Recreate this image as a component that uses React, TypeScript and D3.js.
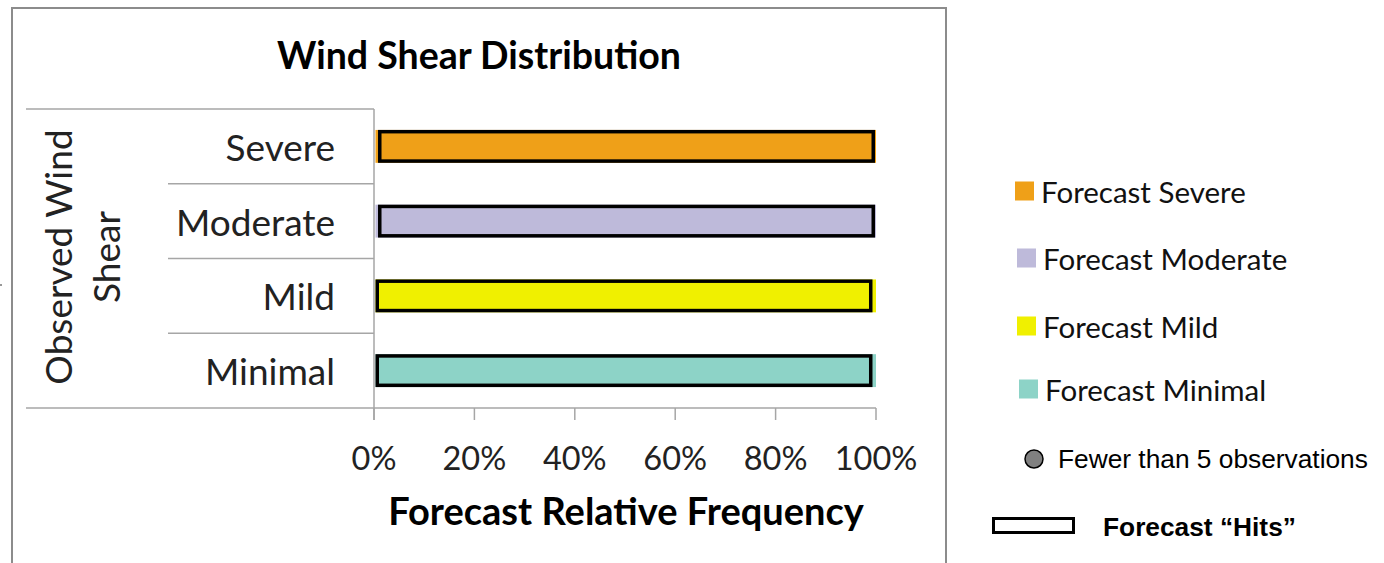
import React from "react";
import * as d3 from "d3";

// Observed categories (rows) and the forecast categories stacked in each row
const observed = ["Severe", "Moderate", "Mild", "Minimal"];
const forecastKeys = ["Forecast Severe", "Forecast Moderate", "Forecast Mild", "Forecast Minimal"];

// Percent of forecasts in each category, per observed row
const forecastSevere = [100, 0, 0, 0];
const forecastModerate = [0, 100, 0, 0];
const forecastMild = [0, 0, 100, 0];
const forecastMinimal = [0, 0, 0, 100];

// Extent of the "hit" portion of each row (percent)
const hitStart = [0.8, 0.8, 0.3, 0.3];
const hitEnd = [99.8, 99.8, 99.3, 99.3];

const tickValues = [0, 20, 40, 60, 80, 100];
const colors = ["#EFA018", "#BEBADA", "#F0F000", "#8DD3C7"];

const W = 1384;
const H = 563;

export default function App() {
  const rows = observed.map((o, i) => ({
    obs: o,
    "Forecast Severe": forecastSevere[i],
    "Forecast Moderate": forecastModerate[i],
    "Forecast Mild": forecastMild[i],
    "Forecast Minimal": forecastMinimal[i],
  }));
  const stacked = d3.stack<any>().keys(forecastKeys)(rows);

  const x = d3.scaleLinear().domain([0, 100]).range([374, 876]);
  const y = d3.scaleBand().domain(observed).range([109, 408]).paddingInner(0.56).paddingOuter(0.28);
  const band = d3.scaleBand().domain(observed).range([109, 408]);

  const calibri = "Lato, 'Open Sans', sans-serif";
  const arial = "'Liberation Sans', Arial, sans-serif";
  const grid = "#a6a6a6";

  return (
    <svg width={W} height={H} style={{ position: "absolute", left: 0, top: 0, background: "#fff" }}>
      {/* chart frame */}
      <rect x={12} y={8} width={934} height={580} fill="#fff" stroke="#8c8c8c" strokeWidth={2} />
      <line x1={0} x2={2} y1={285} y2={285} stroke="#333" strokeWidth={1} />

      <text x={479} y={54} textAnchor="middle" dominantBaseline="central" fontFamily={calibri} fontWeight={700} fontSize={37.5} fill="#000">
        Wind Shear Distribution
      </text>

      {/* category table lines */}
      <line x1={26} x2={374} y1={109} y2={109} stroke={grid} strokeWidth={1.5} />
      {observed.slice(1).map((o) => (
        <line key={o} x1={168} x2={374} y1={band(o)!} y2={band(o)!} stroke={grid} strokeWidth={1.5} />
      ))}
      <line x1={26} x2={374} y1={408} y2={408} stroke={grid} strokeWidth={1.5} />

      {/* x axis */}
      <line x1={374} x2={876} y1={408} y2={408} stroke={grid} strokeWidth={1.5} />
      <line x1={374} x2={374} y1={109} y2={420} stroke={grid} strokeWidth={1.5} />
      {tickValues.map((t) => (
        <g key={t}>
          <line x1={x(t)} x2={x(t)} y1={408} y2={420} stroke={grid} strokeWidth={1.5} />
          <text x={x(t)} y={457} textAnchor="middle" dominantBaseline="central" fontFamily={calibri} fontSize={32.5} fill="#222">
            {t}%
          </text>
        </g>
      ))}
      <text x={626} y={510} textAnchor="middle" dominantBaseline="central" fontFamily={calibri} fontWeight={700} fontSize={38} fill="#000">
        Forecast Relative Frequency
      </text>

      {/* y axis title */}
      <g transform="translate(57,257) rotate(-90)">
        <text x={0} y={0} textAnchor="middle" dominantBaseline="central" fontFamily={calibri} fontSize={37} fill="#222">
          Observed Wind
        </text>
      </g>
      <g transform="translate(105,257) rotate(-90)">
        <text x={0} y={0} textAnchor="middle" dominantBaseline="central" fontFamily={calibri} fontSize={37} fill="#222">
          Shear
        </text>
      </g>

      {/* category labels */}
      {observed.map((o) => (
        <text key={o} x={335} y={band(o)! + band.bandwidth() / 2} textAnchor="end" dominantBaseline="central" fontFamily={calibri} fontSize={37} fill="#222">
          {o}
        </text>
      ))}

      {/* stacked bars */}
      {stacked.map((s, si) => (
        <g key={s.key} fill={colors[si]}>
          {s.map((d, i) =>
            d[1] - d[0] > 0 ? (
              <rect key={i} x={x(d[0]) + 1.5} y={y(observed[i])!} width={x(d[1]) - x(d[0]) - 1.5} height={y.bandwidth()} />
            ) : null
          )}
        </g>
      ))}

      {/* hit outlines */}
      {observed.map((o, i) => (
        <rect
          key={o}
          x={x(hitStart[i]) + 1.75}
          y={y(o)! + 1.75}
          width={x(hitEnd[i]) - x(hitStart[i]) - 3.5}
          height={y.bandwidth() - 3.5}
          fill="none"
          stroke="#000"
          strokeWidth={3.5}
        />
      ))}

      {/* legend */}
      {forecastKeys.map((k, i) => {
        const ly = [191, 258, 326, 389][i];
        const lx = [1015, 1017, 1017, 1019][i];
        return (
          <g key={k}>
            <rect x={lx} y={ly - 9.5} width={19} height={19} fill={colors[i]} />
            <text x={lx + 26} y={ly} dominantBaseline="central" fontFamily={calibri} fontSize={29.5} fill="#111">
              {k}
            </text>
          </g>
        );
      })}

      <circle cx={1034} cy={459} r={9} fill="#808080" stroke="#000" strokeWidth={1.5} />
      <text x={1058} y={459} dominantBaseline="central" fontFamily={arial} fontSize={26.3} fill="#000">
        Fewer than 5 observations
      </text>
      <rect x={993.5} y={518.5} width={80} height={14} fill="#fff" stroke="#000" strokeWidth={3} />
      <text x={1103} y={527} dominantBaseline="central" fontFamily={arial} fontWeight={700} fontSize={26.3} fill="#000">
        Forecast “Hits”
      </text>
    </svg>
  );
}
